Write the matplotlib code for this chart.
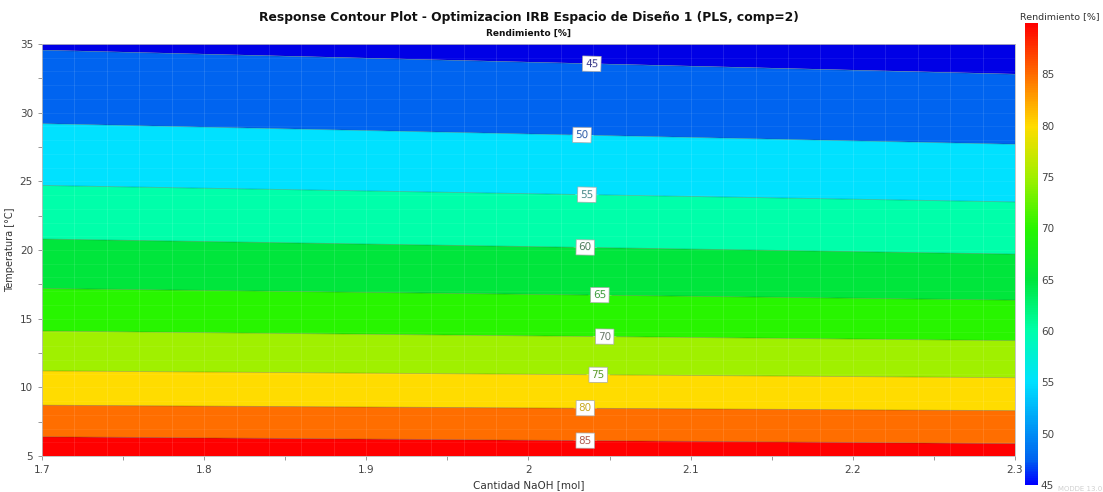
import numpy as np
import matplotlib as mpl
mpl.use("Agg")
import matplotlib.pyplot as plt
from matplotlib.colors import LinearSegmentedColormap, Normalize
from matplotlib.ticker import MultipleLocator

# --- datos ---
naoh = [1.7, 2.3]                                   # Cantidad NaOH [mol] (bordes)
niveles = [45, 50, 55, 60, 65, 70, 75, 80, 85]       # Rendimiento [%] de cada isolinea
temp_izq = [34.55, 29.2, 24.7, 20.8, 17.2, 14.1, 11.2, 8.7, 6.4]   # T donde cruza en NaOH=1.7
temp_der = [32.8, 27.7, 23.5, 19.7, 16.35, 13.4, 10.7, 8.3, 5.9]   # T donde cruza en NaOH=2.3
rend_35 = [44.6, 43.2]      # rendimiento en T=35 (izq, der)
rend_5 = [88.0, 86.9]       # rendimiento en T=5 (izq, der)

colores_banda = ['#0000e6', '#0064f0', '#00e1ff', '#00ffaa', '#00e63c',
                 '#28f500', '#a0f000', '#ffdc00', '#ff6e00', '#ff0000']
niveles_relleno = [40] + niveles + [90]
colores_etiqueta = ['#3a3a8a', '#2a5aa8', '#4a8a8a', '#4a7a5a', '#3a9a3a',
                    '#6a7a6a', '#5a9a2a', '#c8a820', '#b05a50']

# rejilla estructurada a partir de los cruces
T = np.array([[5.0, 5.0]] + [[a, b] for a, b in zip(temp_izq[::-1], temp_der[::-1])] + [[35.0, 35.0]])
Z = np.array([rend_5] + [[v, v] for v in niveles[::-1]] + [rend_35])
X = np.tile(naoh, (T.shape[0], 1))

fig = plt.figure(figsize=(11.03, 4.92), dpi=100)
ax = fig.add_axes([42 / 1103, 1 - 456 / 492, (1015 - 42) / 1103, (456 - 44) / 492])

ax.contourf(X, T, Z, levels=niveles_relleno, colors=colores_banda, antialiased=True)
cs = ax.contour(X, T, Z, levels=niveles, colors='#1a3a1a', linewidths=0.6, alpha=0.3)

# posiciones de las etiquetas
pos_etiquetas = [(2.039, 33.5), (2.033, 28.4), (2.036, 23.9), (2.035, 20.2), (2.044, 16.7),
                 (2.047, 13.7), (2.043, 11.0), (2.035, 8.4), (2.035, 6.1)]
textos = ax.clabel(cs, levels=niveles, manual=pos_etiquetas, inline=True, fontsize=7.5,
                   fmt='%d', colors=colores_etiqueta)
for t in textos:
    t.set_alpha(1)
    t.set_zorder(5)
    t.set_bbox(dict(boxstyle='square,pad=0.25', fc='white', ec='#aaaaaa', lw=0.5))

ax.set_xlim(1.7, 2.3)
ax.set_ylim(5, 35)
ax.xaxis.set_minor_locator(MultipleLocator(0.05))
ax.yaxis.set_major_locator(MultipleLocator(5))
ax.yaxis.set_minor_locator(MultipleLocator(2.5))
ax.set_xticks(np.arange(1.7, 2.301, 0.1))
ax.set_xticklabels(['1.7', '1.8', '1.9', '2', '2.1', '2.2', '2.3'])
ax.tick_params(which='both', colors='#888888', labelcolor='#444444', labelsize=7.5,
               length=3, width=0.6)

# rejilla tenue
for xv in np.arange(1.72, 2.3, 0.02):
    ax.axvline(xv, color='white', lw=0.6, alpha=0.13, zorder=3)
for yv in np.arange(6, 35, 1):
    ax.axhline(yv, color='white', lw=0.6, alpha=0.07, zorder=3)

for s in ax.spines.values():
    s.set_color('#bbbbbb')
    s.set_linewidth(0.6)

ax.set_xlabel('Cantidad NaOH [mol]', fontsize=7.5, color='#333333', labelpad=4)
ax.set_ylabel('Temperatura [°C]', fontsize=7, color='#333333')
ax.yaxis.set_label_coords(-27 / 973, 0.5)

fig.text(528.5 / 1103, 1 - 18 / 492,
         'Response Contour Plot - Optimizacion IRB Espacio de Diseño 1 (PLS, comp=2)',
         ha='center', va='center', fontsize=8.9, fontweight='bold', color='#111111')
fig.text(528.5 / 1103, 1 - 33 / 492, 'Rendimiento [%]', ha='center', va='center',
         fontsize=6.5, fontweight='bold', color='#111111')

# barra de color
cmap = LinearSegmentedColormap.from_list('rend', [
    (0.0, '#0000ff'), (0.055, '#0064f0'), (0.222, '#00e1ff'), (0.333, '#00ffaa'),
    (0.444, '#00e63c'), (0.555, '#28f500'), (0.666, '#a0f000'), (0.777, '#ffdc00'),
    (0.888, '#ff6e00'), (1.0, '#ff0000')])
cax = fig.add_axes([1025 / 1103, 1 - 485 / 492, 13 / 1103, (485 - 23) / 492])
cb = mpl.colorbar.ColorbarBase(cax, cmap=cmap, norm=Normalize(45, 90), orientation='vertical')
cb.set_ticks([45, 50, 55, 60, 65, 70, 75, 80, 85])
cb.outline.set_visible(False)
cax.tick_params(length=0, labelsize=7.5, labelcolor='#444444', pad=2)
fig.text(1060 / 1103, 1 - 17 / 492, 'Rendimiento [%]', ha='center', va='center',
         fontsize=6.8, color='#333333')

fig.text(1058 / 1103, 1 - 489 / 492, 'MODDE 13.0',
         ha='left', va='center', fontsize=5, color='#d0d0d0')

fig.savefig('out.png', dpi=100)
